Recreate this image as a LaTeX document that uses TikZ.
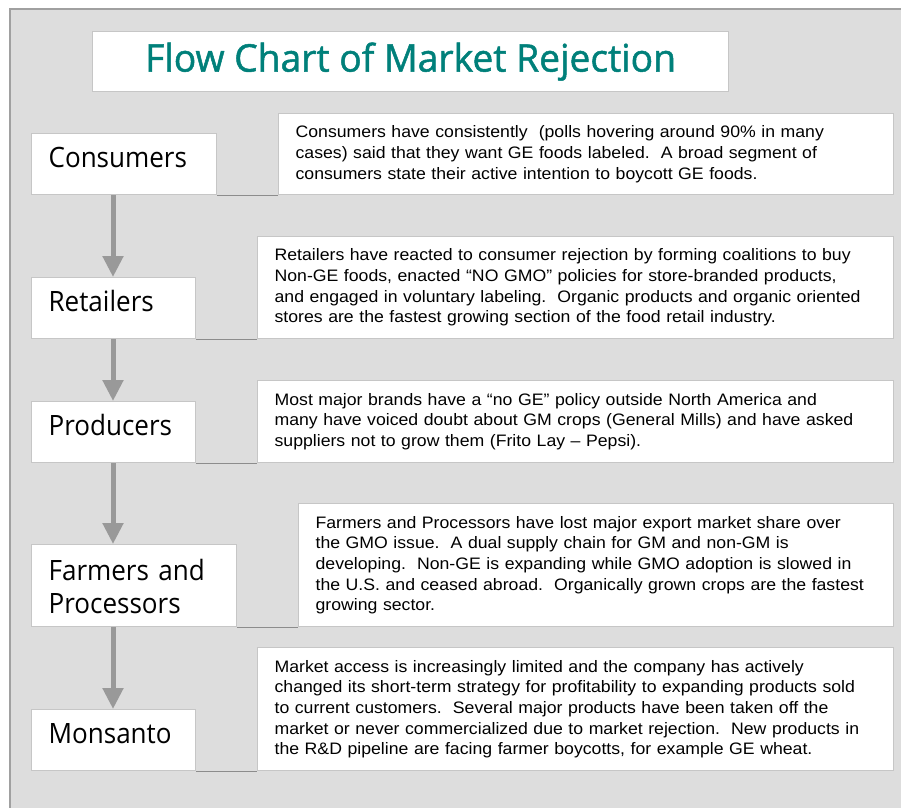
\documentclass[tikz,border=0pt]{standalone}
\usepackage{fontspec}
\setmainfont[FakeStretch=1.065]{Liberation Sans}
\newfontfamily\labelfont[FakeStretch=0.93]{Open Sans}
\newfontfamily\titlefont[FakeBold=1.3,FakeStretch=0.98]{Open Sans}
\usetikzlibrary{arrows.meta}
\definecolor{panelfill}{RGB}{221,221,221}
\definecolor{panelline}{RGB}{160,160,160}
\definecolor{boxline}{RGB}{198,198,198}
\definecolor{arrowgray}{RGB}{153,153,153}
\definecolor{linkgray}{RGB}{140,140,140}
\definecolor{titleteal}{RGB}{0,128,122}
\newcommand\oneline[1]{\mbox{#1}}
\frenchspacing
\tikzset{
  box/.style={draw=boxline, fill=white, line width=1.2pt, inner ysep=0pt, anchor=north west},
  titlebox/.style={box, inner xsep=0pt, text=titleteal, font=\titlefont\fontsize{38}{44}\selectfont},
  lbl/.style={box, inner xsep=17pt, align=left, text height=20pt, text depth=13pt, font=\labelfont\fontsize{28}{33}\selectfont},
  txt/.style={box, inner xsep=17pt, align=left, font=\fontsize{16.6}{20.7}\selectfont},
  flowarrow/.style={draw=arrowgray, line width=5pt, -{Triangle[width=20pt,length=21pt]}},
  link/.style={draw=linkgray, line width=1.3pt}
}
\begin{document}
\begin{tikzpicture}[x=1pt,y=-1pt]
\useasboundingbox (0,0) rectangle (901,807);
\fill[white] (0,0) rectangle (901,807);
\draw[draw=panelline, fill=panelfill, line width=1.3pt] (10,9) rectangle (912,820);

\node[titlebox, minimum width=636pt, minimum height=60pt] (title) at (92,31) {Flow Chart of Market Rejection};

% left labels
\node[lbl, text width=151pt, minimum height=61pt] (cons) at (31,133) {Consumers};
\node[lbl, text width=130pt, minimum height=61pt] (ret) at (31,277) {Retailers};
\node[lbl, text width=130pt, minimum height=61pt] (prod) at (31,401) {Producers};
\node[lbl, text width=171pt, minimum height=82pt, text height=23pt, text depth=33pt] (farm) at (31,544) {Farmers and\\Processors};
\node[lbl, text width=130pt, minimum height=61pt] (mons) at (31,709) {Monsanto};

% right texts
\node[txt, text width=581pt, minimum height=81pt] (tcons) at (278,113) {%
\oneline{Consumers have consistently\ \ (polls hovering around 90\% in many}\\
\oneline{cases) said that they want GE foods labeled.\ \ A broad segment of}\\
\oneline{consumers state their active intention to boycott GE foods.}};
\node[txt, text width=602pt, minimum height=102pt] (tret) at (257,236) {%
\oneline{Retailers have reacted to consumer rejection by forming coalitions to buy}\\
\oneline{Non-GE foods, enacted “NO GMO” policies for store-branded products,}\\
\oneline{and engaged in voluntary labeling.\ \ Organic products and organic oriented}\\
\oneline{stores are the fastest growing section of the food retail industry.}};
\node[txt, text width=602pt, minimum height=82pt] (tprod) at (257,380) {%
\oneline{Most major brands have a “no GE” policy outside North America and}\\
\oneline{many have voiced doubt about GM crops (General Mills) and have asked}\\
\oneline{suppliers not to grow them (Frito Lay – Pepsi).}};
\node[txt, text width=561pt, minimum height=123pt] (tfarm) at (298,503) {%
\oneline{Farmers and Processors have lost major export market share over}\\
\oneline{the GMO issue.\ \ A dual supply chain for GM and non-GM is}\\
\oneline{developing.\ \ Non-GE is expanding while GMO adoption is slowed in}\\
\oneline{the U.S. and ceased abroad.\ \ Organically grown crops are the fastest}\\
\oneline{growing sector.}};
\node[txt, text width=602pt, minimum height=123pt] (tmons) at (257,647) {%
\oneline{Market access is increasingly limited and the company has actively}\\
\oneline{changed its short-term strategy for profitability to expanding products sold}\\
\oneline{to current customers.\ \ Several major products have been taken off the}\\
\oneline{market or never commercialized due to market rejection.\ \ New products in}\\
\oneline{the R\&D pipeline are facing farmer boycotts, for example GE wheat.}};

% links
\draw[link] (cons.south east) -- (tcons.south west);
\draw[link] (ret.south east) -- (tret.south west);
\draw[link] (prod.south east) -- (tprod.south west);
\draw[link] (farm.south east) -- (tfarm.south west);
\draw[link] (mons.south east) -- (tmons.south west);

% arrows
\draw[flowarrow] ([xshift=82pt]cons.south west) -- ([xshift=82pt]ret.north west);
\draw[flowarrow] ([xshift=82pt]ret.south west) -- ([xshift=82pt]prod.north west);
\draw[flowarrow] ([xshift=82pt]prod.south west) -- ([xshift=82pt]farm.north west);
\draw[flowarrow] ([xshift=82pt]farm.south west) -- ([xshift=82pt]mons.north west);
\end{tikzpicture}
\end{document}
